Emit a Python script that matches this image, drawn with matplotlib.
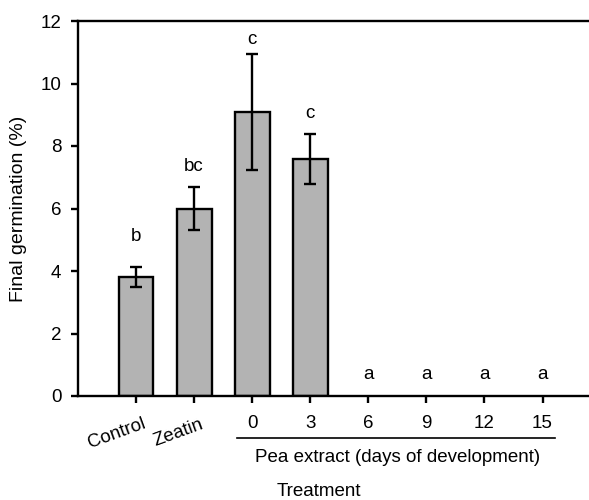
import matplotlib
matplotlib.use('Agg')
import matplotlib.pyplot as plt
import numpy as np

plt.rcParams['font.family'] = ['Liberation Sans', 'DejaVu Sans']

# data
categories = ['Control', 'Zeatin', '0', '3', '6', '9', '12', '15']
germination = [3.8, 6.0, 9.08, 7.58, 0, 0, 0, 0]
errors = [0.32, 0.70, 1.85, 0.79, 0, 0, 0, 0]
letters = ['b', 'bc', 'c', 'c', 'a', 'a', 'a', 'a']
letter_y = [5.1, 7.35, 11.4, 9.05, 0.68, 0.68, 0.68, 0.68]

positions = np.arange(1, len(categories) + 1)
fs = 13.5

fig = plt.figure(figsize=(5.89, 5.0), dpi=100)
ax = fig.add_axes([0.1324, 0.208, 0.8676, 0.75])

lw = 1.7
ax.bar(positions[:4], germination[:4], width=0.6, color='#b3b3b3',
       edgecolor='black', linewidth=lw, zorder=2)
ax.errorbar(positions[:4], germination[:4], yerr=errors[:4], fmt='none',
            ecolor='black', elinewidth=lw, capsize=4, capthick=lw, zorder=3)

for x, y, s in zip(positions, letter_y, letters):
    ax.text(x, y, s, ha='center', va='center', fontsize=fs)

ax.set_xlim(0, 8.8)
ax.set_ylim(0, 12)
ax.set_yticks(np.arange(0, 13, 2))
ax.set_xticks(positions)
ax.set_xticklabels([''] * 2 + categories[2:])
ax.tick_params(axis='both', direction='out', length=5, width=lw,
               labelsize=fs, pad=7)
ax.tick_params(axis='x', pad=9)

for side in ['left', 'bottom', 'top']:
    ax.spines[side].set_linewidth(lw)
ax.spines['right'].set_visible(False)

# rotated labels for the first two treatments
for x, s in zip(positions[:2], categories[:2]):
    ax.text(x + 0.1, -0.052, s, transform=ax.get_xaxis_transform(),
            rotation=20, rotation_mode='anchor', ha='right', va='top',
            fontsize=fs)

# bracket line for the pea extract group
xfm = ax.get_xaxis_transform()
ax.plot([positions[2] - 0.26, positions[-1] + 0.22], [-0.111, -0.111],
        color='black', linewidth=1.2, transform=xfm, clip_on=False)
ax.text((positions[2] + positions[-1]) / 2, -0.163,
        'Pea extract (days of development)', transform=xfm,
        ha='center', va='center', fontsize=fs)

ax.set_ylabel('Final germination (%)', fontsize=14, labelpad=10)
fig.text(319 / 589, 1 - 492 / 500, 'Treatment', ha='center', va='center',
         fontsize=fs)

fig.savefig('out.png', dpi=100)
